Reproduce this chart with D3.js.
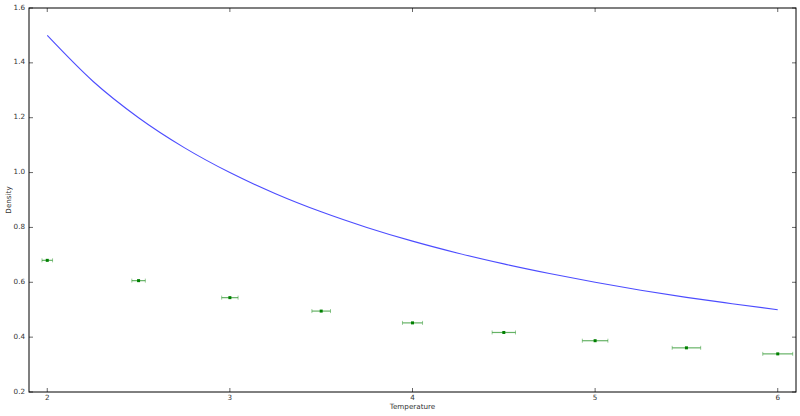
<!DOCTYPE html>
<html><head><meta charset="utf-8">
<script src="https://cdn.jsdelivr.net/npm/d3@7"></script>
<style>body{margin:0;background:#fff}svg{display:block}text{font-family:"DejaVu Sans",sans-serif}</style>
</head><body><svg id="c" width="800" height="416"></svg>
<script>
// Curve (blue line)
const curveT = [2,2.25,2.5,2.75,3,3.25,3.5,3.75,4,4.25,4.5,4.75,5,5.25,5.5,5.75,6];
const curveD = [1.5,1.333,1.2,1.091,1.0,0.923,0.857,0.8,0.75,0.706,0.667,0.632,0.6,0.571,0.545,0.522,0.5];
// Measured points with horizontal error
const pointT = [2,2.5,3,3.5,4,4.5,5,5.5,6];
const pointD = [0.68,0.606,0.544,0.495,0.452,0.417,0.387,0.361,0.339];
const pointErr = [0.029,0.037,0.045,0.051,0.055,0.064,0.07,0.078,0.082];
const xTicks = [2,3,4,5,6];
const yTicks = [0.2,0.4,0.6,0.8,1.0,1.2,1.4,1.6];

const svg = d3.select("#c");
const L=29,R=796,T=8,B=392;
const x = d3.scaleLinear().domain([1.9,6.1]).range([L,R]);
const y = d3.scaleLinear().domain([0.2,1.6]).range([B,T]);
const g = svg.append("g");
const fs = 7.2, tc = "#333";

// ticks inward on all sides
const tickLen=4;
xTicks.forEach(v=>{
  g.append("line").attr("x1",x(v)).attr("x2",x(v)).attr("y1",B).attr("y2",B-tickLen).attr("stroke","#000").attr("stroke-width",0.6);
  g.append("line").attr("x1",x(v)).attr("x2",x(v)).attr("y1",T).attr("y2",T+tickLen).attr("stroke","#000").attr("stroke-width",0.6);
  g.append("text").attr("x",x(v)).attr("y",B+7.5).attr("text-anchor","middle").attr("font-size",fs).attr("fill",tc).text(d3.format("d")(v));
});
yTicks.forEach(v=>{
  g.append("line").attr("x1",L).attr("x2",L+tickLen).attr("y1",y(v)).attr("y2",y(v)).attr("stroke","#000").attr("stroke-width",0.6);
  g.append("line").attr("x1",R).attr("x2",R-tickLen).attr("y1",y(v)).attr("y2",y(v)).attr("stroke","#000").attr("stroke-width",0.6);
  g.append("text").attr("x",L-4).attr("y",y(v)+1.5).attr("text-anchor","end").attr("font-size",fs).attr("fill",tc).text(d3.format(".1f")(v));
});

// blue line
const line = d3.line().x((d,i)=>x(curveT[i])).y(d=>y(d)).curve(d3.curveMonotoneX);
g.append("path").datum(curveD).attr("d",line).attr("fill","none").attr("stroke","#0000ff").attr("stroke-opacity",0.7).attr("stroke-width",1.1);

// error bars
pointT.forEach((t,i)=>{
  const cy=y(pointD[i]), x0=x(t-pointErr[i]), x1=x(t+pointErr[i]);
  g.append("line").attr("x1",x0).attr("x2",x1).attr("y1",cy).attr("y2",cy).attr("stroke","#008000").attr("stroke-opacity",0.6).attr("stroke-width",1.2);
  [x0,x1].forEach(xx=>g.append("line").attr("x1",xx).attr("x2",xx).attr("y1",cy-2).attr("y2",cy+2).attr("stroke","#008000").attr("stroke-opacity",0.5).attr("stroke-width",0.8));
  g.append("rect").attr("x",x(t)-1.5).attr("y",cy-1.5).attr("width",3).attr("height",3).attr("fill","#008000");
});

// frame
g.append("rect").attr("x",L).attr("y",T).attr("width",R-L).attr("height",B-T).attr("fill","none").attr("stroke","#000").attr("stroke-width",1);

// labels
svg.append("text").attr("x",(L+R)/2).attr("y",408.5).attr("text-anchor","middle").attr("font-size",fs).attr("fill",tc).text("Temperature");
svg.append("text").attr("transform",`translate(10.5,${(T+B)/2}) rotate(-90)`).attr("text-anchor","middle").attr("font-size",fs).attr("fill",tc).text("Density");
</script></body></html>
